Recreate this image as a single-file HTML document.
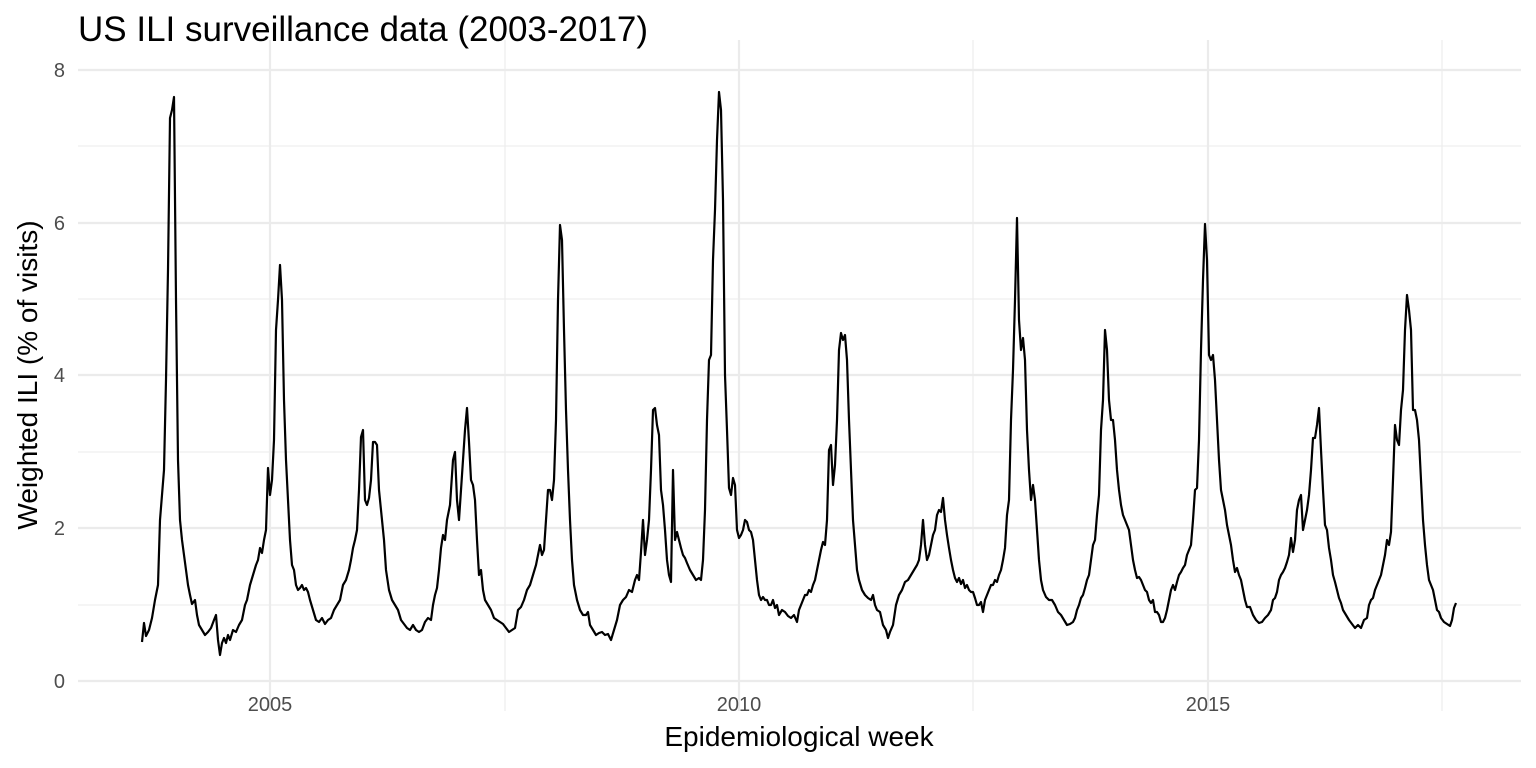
<!DOCTYPE html>
<html><head><meta charset="utf-8"><style>
html,body{margin:0;padding:0;background:#fff;}
svg{display:block;font-family:"Liberation Sans",sans-serif;}
</style></head><body>
<svg width="1536" height="768" viewBox="0 0 1536 768">
<rect width="1536" height="768" fill="#fff"/>
<g stroke="#ebebeb" stroke-width="1.1">
<line x1="78" x2="1521" y1="605" y2="605"/><line x1="78" x2="1521" y1="452" y2="452"/>
<line x1="78" x2="1521" y1="299" y2="299"/><line x1="78" x2="1521" y1="146" y2="146"/>
<line x1="505" x2="505" y1="40" y2="711"/><line x1="973" x2="973" y1="40" y2="711"/><line x1="1442" x2="1442" y1="40" y2="711"/>
</g>
<g stroke="#ebebeb" stroke-width="2.2">
<line x1="78" x2="1521" y1="681" y2="681"/><line x1="78" x2="1521" y1="528" y2="528"/>
<line x1="78" x2="1521" y1="375" y2="375"/><line x1="78" x2="1521" y1="223" y2="223"/><line x1="78" x2="1521" y1="70" y2="70"/>
<line x1="270" x2="270" y1="40" y2="711"/><line x1="739" x2="739" y1="40" y2="711"/><line x1="1208" x2="1208" y1="40" y2="711"/>
</g>
<polyline fill="none" stroke="#000" stroke-width="2.2" stroke-linejoin="round" points="142,642 144,623 146,636 149,630 152,618 155,600 158,585 160,520 162,495 164,470 166,380 168,270 170,118 172,110 174,97 176,300 178,460 180,520 182,540 184,555 186,570 188,585 190,595 192,604 195,600 197,615 199,625 202,630 205,635 208,632 211,628 214,620 216,615 218,640 220,655 222,643 224,638 226,643 228,635 230,640 233,630 236,632 239,625 242,620 245,605 247,600 250,585 253,575 256,565 258,560 260,548 262,553 264,540 266,530 268,468 270,495 272,480 274,440 276,330 278,300 280,265 282,300 284,400 286,460 288,500 290,540 292,565 294,570 296,585 298,590 300,588 302,585 304,590 306,588 308,592 310,600 313,610 316,620 319,622 322,618 325,624 328,620 331,618 334,610 337,605 340,600 343,585 346,580 349,570 351,560 353,548 355,540 357,530 359,490 361,437 363,430 365,500 367,505 369,498 371,480 373,442 375,442 377,445 379,490 381,510 384,540 386,570 389,590 392,600 395,605 398,610 401,620 404,624 407,628 410,630 413,625 416,630 419,632 422,630 425,622 428,618 431,620 433,605 435,595 437,588 439,570 441,548 443,535 445,540 447,520 450,505 453,460 455,452 457,500 459,520 461,490 463,460 465,430 467,408 469,442 471,480 473,485 475,500 477,540 479,575 481,570 483,590 485,600 488,605 491,610 494,618 497,620 500,622 503,624 506,628 509,632 512,630 515,628 518,610 521,607 524,600 527,590 530,585 533,575 536,565 538,555 540,545 542,555 544,550 546,520 548,490 550,490 552,500 554,480 556,420 558,300 560,225 562,240 564,330 566,410 568,470 570,520 572,560 574,585 577,600 580,610 583,615 586,615 588,612 590,625 593,630 596,635 599,633 602,632 605,635 608,634 611,640 614,630 617,620 620,605 623,600 626,597 629,590 632,592 635,580 637,575 639,580 641,552 643,520 645,555 647,540 649,520 651,470 653,410 655,408 657,425 659,435 661,490 663,505 665,530 667,560 669,575 671,582 673,470 675,540 677,532 679,540 681,548 683,555 685,558 687,563 690,570 693,575 696,580 699,578 701,580 703,560 705,510 707,420 709,360 711,355 713,260 715,210 717,140 719,92 721,110 723,200 725,375 727,430 729,488 731,495 733,478 735,485 737,530 739,538 741,535 743,530 745,520 747,522 749,530 751,532 753,540 755,560 757,580 759,595 761,600 763,597 765,600 767,600 769,605 771,605 773,600 775,608 777,605 779,615 782,610 785,612 788,616 791,618 794,615 797,622 799,610 801,605 803,600 805,595 807,595 809,590 811,592 813,585 815,580 817,570 819,560 821,550 823,542 825,545 827,520 829,450 831,445 833,485 835,465 837,420 839,350 841,333 843,340 845,335 847,360 849,420 851,470 853,520 855,545 857,570 859,580 862,590 865,595 868,598 871,600 873,595 875,605 877,610 880,612 883,625 886,630 888,638 890,632 893,625 896,605 899,595 902,590 905,582 908,580 911,575 914,570 917,565 919,560 921,545 923,520 925,545 927,560 929,555 931,545 933,535 935,530 937,515 939,510 941,512 943,498 945,520 947,535 949,548 951,560 953,570 955,578 957,582 959,578 961,584 963,580 965,588 967,585 969,590 971,592 973,592 975,598 977,605 979,605 981,602 983,612 985,600 987,595 989,590 991,585 993,585 995,580 997,582 999,575 1001,570 1003,560 1005,548 1007,515 1009,500 1011,420 1013,370 1015,300 1017,218 1019,320 1021,350 1023,338 1025,360 1027,430 1029,470 1031,500 1033,485 1035,500 1037,530 1039,560 1041,580 1043,590 1046,597 1049,600 1052,600 1055,605 1058,612 1061,615 1064,620 1067,625 1070,624 1073,622 1075,618 1077,610 1079,605 1081,598 1083,595 1085,588 1087,580 1089,575 1091,560 1093,545 1095,540 1097,515 1099,495 1101,430 1103,400 1105,330 1107,350 1109,400 1111,420 1113,420 1115,440 1117,470 1119,490 1121,505 1123,515 1125,520 1127,525 1129,530 1131,545 1133,560 1135,570 1137,578 1139,577 1141,580 1143,585 1145,590 1147,592 1149,600 1151,603 1153,600 1155,612 1157,612 1159,615 1161,622 1163,622 1165,618 1167,610 1169,600 1171,590 1173,585 1175,590 1177,582 1179,575 1181,572 1183,568 1185,565 1187,555 1189,550 1191,545 1193,520 1195,490 1197,488 1199,440 1201,350 1203,280 1205,224 1207,260 1209,355 1211,360 1213,355 1215,380 1217,420 1219,460 1221,490 1223,500 1225,510 1227,525 1229,535 1231,545 1233,560 1235,572 1237,568 1239,575 1241,580 1243,590 1245,600 1247,607 1250,607 1253,615 1256,620 1259,623 1262,622 1265,618 1268,615 1271,610 1273,600 1275,598 1277,592 1279,580 1281,575 1283,572 1285,568 1287,562 1289,555 1291,538 1293,552 1295,540 1297,510 1299,500 1301,495 1303,530 1305,520 1307,510 1309,495 1311,470 1313,438 1315,438 1317,425 1319,408 1321,450 1323,490 1325,525 1327,530 1329,548 1331,560 1333,575 1335,582 1337,590 1339,598 1341,603 1343,610 1346,615 1349,620 1352,624 1355,628 1358,625 1361,628 1364,620 1367,618 1369,605 1371,600 1373,598 1375,590 1377,585 1379,580 1381,575 1383,565 1385,555 1387,540 1389,545 1391,532 1393,480 1395,425 1397,440 1399,445 1401,410 1403,390 1405,330 1407,295 1409,310 1411,330 1413,410 1415,410 1417,420 1419,440 1421,480 1423,520 1425,545 1427,565 1429,580 1431,585 1433,590 1435,600 1437,610 1439,612 1441,618 1444,622 1447,624 1450,626 1452,620 1454,608 1456,603"/>
<g fill="#4d4d4d" font-size="20" text-anchor="end">
<text x="65" y="688">0</text><text x="65" y="535">2</text><text x="65" y="382">4</text><text x="65" y="230">6</text><text x="65" y="77">8</text>
</g>
<g fill="#4d4d4d" font-size="20" text-anchor="middle">
<text x="270" y="711">2005</text><text x="739" y="711">2010</text><text x="1208" y="711">2015</text>
</g>
<text x="799" y="746" font-size="28" text-anchor="middle" fill="#000">Epidemiological week</text>
<text transform="translate(37,375) rotate(-90)" font-size="28" text-anchor="middle" fill="#000">Weighted ILI (% of visits)</text>
<text x="78" y="41" font-size="35" fill="#000">US ILI surveillance data (2003-2017)</text>
</svg>
</body></html>
